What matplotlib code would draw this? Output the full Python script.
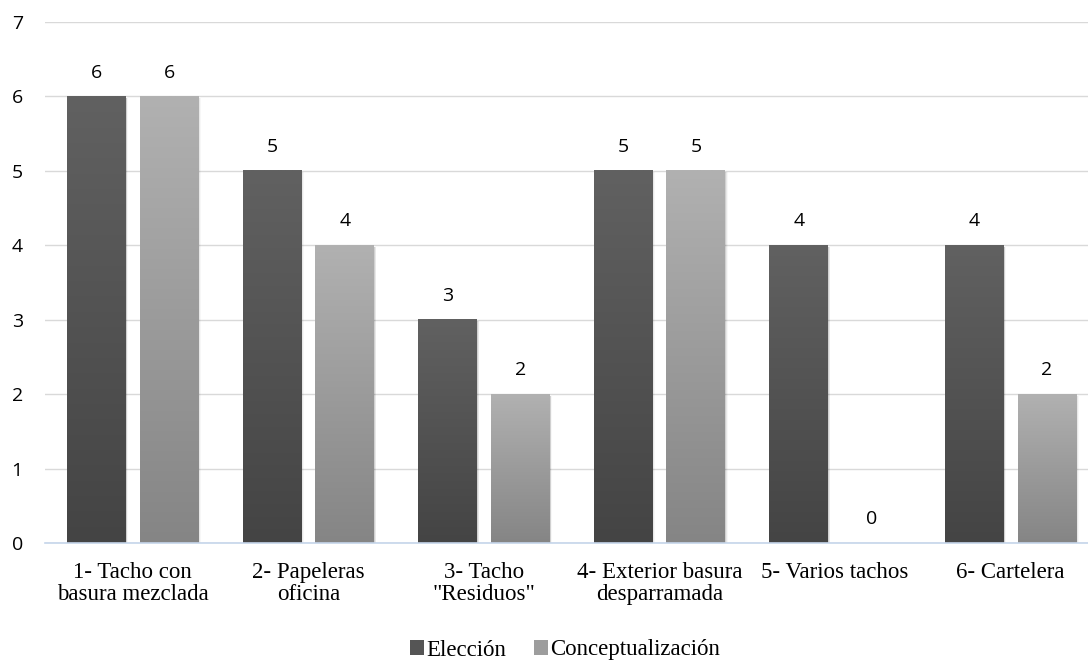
import numpy as np
import matplotlib.pyplot as plt
from matplotlib.patches import Patch, Rectangle

categories = ["1- Tacho con\nbasura mezclada", "2- Papeleras\noficina", "3- Tacho\n\"Residuos\"",
              "4- Exterior basura\ndesparramada", "5- Varios tachos", "6- Cartelera"]
eleccion = [6, 5, 3, 5, 4, 4]
conceptualizacion = [6, 4, 2, 5, 0, 2]
series_names = ["Elección", "Conceptualización"]

# gradient (top, bottom) per series
gradients = [("#616161", "#444444"), ("#b1b1b1", "#858585")]

fig = plt.figure(figsize=(10.88, 6.63), dpi=100)
ax = fig.add_axes([45 / 1088, 120 / 663, 1043 / 1088, 521 / 663])

x = np.arange(len(categories))
width = 0.336
offset = 0.207


def gradient_bar(ax, xc, h, colors):
    if h <= 0:
        return
    left = xc - width / 2
    # soft shadow to the right of the bar
    for i, a in enumerate([0.10, 0.06, 0.03]):
        ax.add_patch(Rectangle((left + 0.004 * (i + 1), -0.01), width, h - 0.01,
                               facecolor="black", edgecolor="none", alpha=a, zorder=1.5))
    top = np.array(plt.matplotlib.colors.to_rgb(colors[0]))
    bot = np.array(plt.matplotlib.colors.to_rgb(colors[1]))
    t = np.linspace(0, 1, 256)[:, None]
    img = (top * (1 - t) + bot * t)[:, None, :]
    ax.imshow(img, extent=(left, left + width, 0, h), aspect="auto",
              origin="upper", zorder=2, interpolation="bilinear")


for vals, shift, cols in [(eleccion, -offset, gradients[0]), (conceptualizacion, offset, gradients[1])]:
    for xi, v in zip(x, vals):
        gradient_bar(ax, xi + shift, v, cols)
        ax.text(xi + shift, v + 0.2, str(v), ha="center", va="bottom",
                fontsize=14, family="Open Sans", color="#000000", zorder=3)

ax.set_xlim(-0.5, 5.44)
ax.set_ylim(0, 7)

ax.set_yticks(range(0, 8))
ax.yaxis.grid(True, color="#d9d9d9", linewidth=1)
ax.set_axisbelow(True)
for s in ["top", "right", "left"]:
    ax.spines[s].set_visible(False)
ax.spines["bottom"].set_color("#c5d5ea")
ax.spines["bottom"].set_linewidth(1.2)
ax.spines["bottom"].set_zorder(4)
ax.tick_params(axis="both", length=0)
ax.tick_params(axis="y", pad=20)
for lbl in ax.get_yticklabels():
    lbl.set_fontfamily("Open Sans")
    lbl.set_fontsize(14)
    lbl.set_horizontalalignment("center")

ax.set_xticks(x)
ax.set_xticklabels(categories, fontfamily="Liberation Serif", fontsize=16.5,
                   linespacing=1.05)
ax.tick_params(axis="x", pad=14)

handles = [Patch(facecolor="#555555", edgecolor="none"),
           Patch(facecolor="#9d9d9d", edgecolor="none")]
fig.legend(handles, series_names, loc="center", bbox_to_anchor=(565 / 1088, 1 - 650 / 663),
           ncol=2, frameon=False, prop={"family": "Liberation Serif", "size": 16.5},
           handlelength=0.6, handleheight=0.6, handletextpad=0.1, columnspacing=1.2)

fig.savefig("out.png", dpi=100)
